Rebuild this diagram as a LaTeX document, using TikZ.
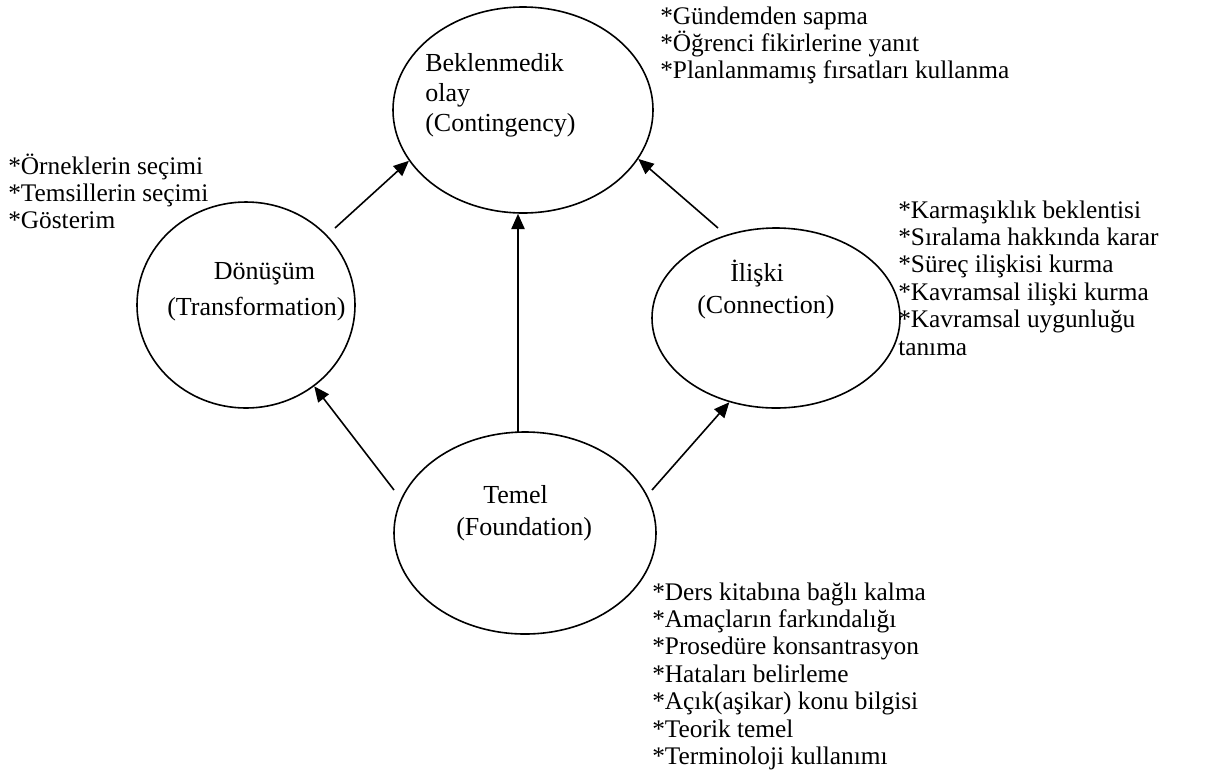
\documentclass[tikz,border=0pt]{standalone}
\usepackage{fontspec}
\setmainfont{Liberation Serif}
\usetikzlibrary{shapes.geometric,arrows.meta}
\newcommand{\stack}[1]{\vtop{\halign{##\hfil\cr#1\crcr}}}
\begin{document}
\begin{tikzpicture}[x=0.75pt,y=-0.75pt,
  ell/.style={draw, ellipse, line width=1.2pt, inner sep=0pt},
  arr/.style={line width=1.2pt, -{Triangle[length=11.5pt,width=10pt]}},
  lst/.style={inner sep=0pt, anchor=base west, font=\fontsize{19}{20.6}\selectfont},
  lbl/.style={inner sep=0pt, anchor=base west, font=\fontsize{19.5}{24}\selectfont}]
\useasboundingbox (0,0) rectangle (1205,769);
% ellipses
\node[ell, minimum width=195pt, minimum height=154.5pt] (cont) at (523,110) {};
\node[ell, minimum width=163.5pt, minimum height=154.5pt] (trans) at (246,305) {};
\node[ell, minimum width=186pt, minimum height=135pt] (conn) at (776,318) {};
\node[ell, minimum width=196.5pt, minimum height=151.5pt] (found) at (525,533) {};
% labels inside ellipses
\node[lbl, font=\fontsize{19.5}{22.5}\selectfont] (contl) at (425,71) {\stack{Beklenmedik\cr olay\cr (Contingency)}};
\node[lbl, font=\fontsize{19.5}{27}\selectfont] (transl) at (167,279) {\stack{\hspace{35pt}Dönüşüm\cr (Transformation)}};
\node[lbl] (connl) at (697,281) {\stack{\hspace{24.75pt}İlişki\cr (Connection)}};
\node[lbl] (foundl) at (456,503) {\stack{\hspace{20.25pt}Temel\cr (Foundation)}};
% lists
\node[lst] (contx) at (660,24) {\stack{*Gündemden sapma\cr *Öğrenci fikirlerine yanıt\cr *Planlanmamış fırsatları kullanma}};
\node[lst] (transx) at (8,174) {\stack{*Örneklerin seçimi\cr *Temsillerin seçimi\cr *Gösterim}};
\node[lst] (connx) at (898,218) {\stack{*Karmaşıklık beklentisi\cr *Sıralama hakkında karar\cr *Süreç ilişkisi kurma\cr *Kavramsal ilişki kurma\cr *Kavramsal uygunluğu\cr tanıma}};
\node[lst] (foundx) at (652,600) {\stack{*Ders kitabına bağlı kalma\cr *Amaçların farkındalığı\cr *Prosedüre konsantrasyon\cr *Hataları belirleme\cr *Açık(aşikar) konu bilgisi\cr *Teorik temel\cr *Terminoloji kullanımı}};
% arrow start points (free ends)
\coordinate (s1) at (394,490);
\coordinate (s2) at (518,433);
\coordinate (s3) at (652,490);
\coordinate (s4) at (335,228);
\coordinate (s5) at (718,228);
% arrows
\draw[arr] (s1) -- (trans.-50);
\draw[arr] (s2) -- (s2 |- cont.south);
\draw[arr] (s3) -- (conn.-119);
\draw[arr] (s4) -- (cont.-156.4);
\draw[arr] (s5) -- (cont.-23.7);
\end{tikzpicture}
\end{document}
